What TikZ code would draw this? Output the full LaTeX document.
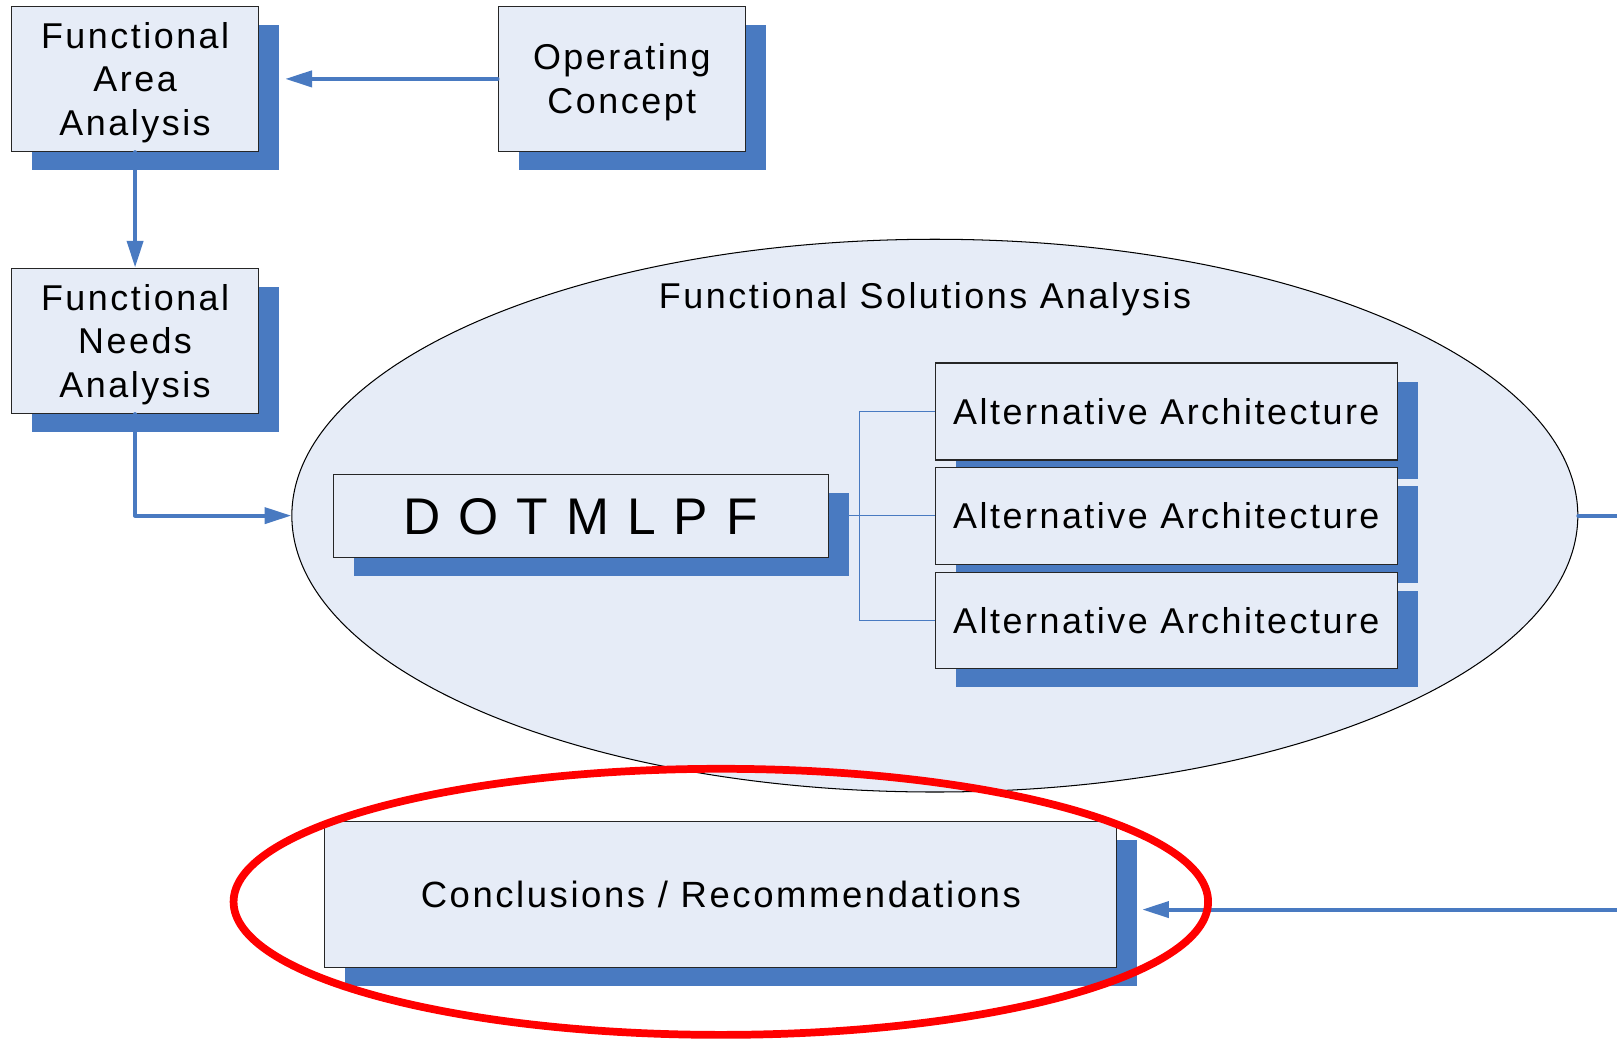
\documentclass[tikz,border=0pt]{standalone}
\usepackage{fontspec}
\setmainfont{Liberation Sans}[LetterSpace=7]
\usetikzlibrary{shapes.geometric,arrows.meta,shadows}
\definecolor{boxfill}{RGB}{230,236,247}
\definecolor{shade}{RGB}{73,122,193}
\definecolor{flow}{RGB}{73,122,193}
\definecolor{mark}{RGB}{255,0,0}

\begin{document}
\begin{tikzpicture}[x=1pt,y=-1pt,
  box/.style={draw=black!85, line width=1.1pt, fill=boxfill, inner sep=0pt,
    align=center, text depth=0pt, font=\fontsize{34.8}{42.5}\selectfont,
    drop shadow={shadow xshift=20pt, shadow yshift=-18pt, fill=shade, opacity=1}},
  flowline/.style={draw=flow, line width=3.9pt, line cap=round, line join=round},
  tipped/.style={-{Triangle[length=26pt,width=15.5pt]}},
  branch/.style={draw=flow, line width=1pt},
]
\useasboundingbox (0,0) rectangle (1568,1010);

% analysis ellipse and its title
\node[ellipse, draw=black, line width=1pt, fill=boxfill,
      minimum width=1247pt, minimum height=536pt, inner sep=0pt]
      (fsa) at (906.5,500) {};
\node[font=\fontsize{34.8}{42.5}\selectfont] (fsatitle) at (897,290.5)
      {Functional Solutions Analysis};

% process boxes
\node[box, minimum width=240pt, minimum height=141pt] (faa) at (131,76.5)
      {Functional\\Area\\Analysis};
\node[box, minimum width=240pt, minimum height=141pt] (oc) at (603,76.5)
      {Operating\\Concept};
\node[box, minimum width=240pt, minimum height=141pt] (fna) at (131,330.5)
      {Functional\\Needs\\Analysis};
\node[box, minimum width=480pt, minimum height=81pt,
      font=\fontsize{50}{60}\selectfont] (dot) at (563,500.5)
      {D O T M L P F};
\node[box, minimum width=448pt, minimum height=94pt] (alt1) at (1131,399)
      {Alternative Architecture};
\node[box, minimum width=448pt, minimum height=94pt] (alt2) at (1131,500)
      {Alternative Architecture};
\node[box, minimum width=448pt, minimum height=93pt] (alt3) at (1131,601.5)
      {Alternative Architecture};
\node[box, minimum width=768pt, minimum height=141pt,
      font=\fontsize{35.4}{42.5}\selectfont] (concl) at (699,867.5)
      {Conclusions / Recommendations};

% free ends at the right margin
\coordinate (eastout) at (1568,500);
\coordinate (eastin) at (1568,882);
\coordinate (junction) at (833,500);

% flow connectors
\draw[flowline, tipped] (oc.west) -- ([xshift=25pt]faa.east |- oc.west);
\draw[flowline, tipped] (faa.south) -- (fna.north);
\draw[flowline, tipped] (fna.south) |- (fsa.west);
\draw[flowline] (fsa.east) -- (eastout);
\draw[flowline, tipped] (eastin) -- ([xshift=24pt]concl.east |- eastin);

% branches to the alternatives
\draw[branch] (dot.east |- alt2.west) -- (alt2.west);
\draw[branch] (alt1.west) -| (junction) |- (alt3.west);

% highlight ring
\draw[draw=mark, line width=7.5pt] (699,874.5) ellipse [x radius=472.5pt, y radius=129pt];
\end{tikzpicture}
\end{document}
